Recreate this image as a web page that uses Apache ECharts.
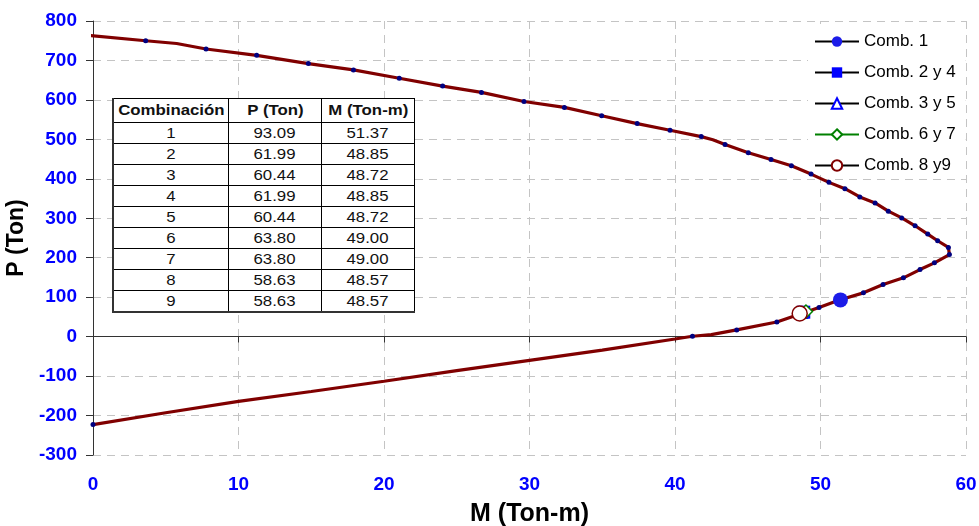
<!DOCTYPE html>
<html>
<head>
<meta charset="utf-8">
<script src="https://cdn.jsdelivr.net/npm/echarts@6/dist/echarts.min.js"></script>
<style>
  html, body { margin: 0; padding: 0; background: #fff; }
  #wrap { position: relative; width: 979px; height: 526px; }
  #chart { position: absolute; left: 0; top: 0; width: 979px; height: 526px; }
  #tbl { position: absolute; left: 112px; top: 98px; border-collapse: collapse; background: #fff;
         font-family: "Liberation Sans", Arial, sans-serif; font-size: 14px; color: #111;
         border-left: 2px solid #333; border-bottom: 2px solid #333; border-top: 1px solid #000; border-right: 1px solid #000; }
  #tbl td, #tbl th { border: 1px solid #000; text-align: center; padding: 0; height: 20px; line-height: 20px; overflow: hidden; }
  #tbl th { font-weight: bold; height: 23px; line-height: 23px; }
  #tbl span { display: inline-block; transform: scaleX(1.2); transform-origin: center; }
</style>
</head>
<body>
<div id="wrap">
  <div id="chart"></div>
  <table id="tbl"></table>
</div>
<script>
// ---- interaction diagram curve (M in Ton-m, P in Ton) ----
const curveM = [-0.7, 3.62, 5.75, 7.77, 11.25, 14.8, 17.9, 21.05, 24.03, 26.7, 29.62, 32.4, 34.96, 37.4, 39.66, 41.8, 42.6, 43.44, 45.04, 46.6, 48.0, 49.35, 50.58, 51.68, 52.7, 53.75, 54.66, 55.58, 56.5, 57.37, 58.05, 58.79, 58.86, 57.83, 56.84, 55.7, 54.3, 52.95, 51.3, 49.9, 47.0, 44.24, 42.5, 41.2, 40, 35, 30, 25, 20, 15, 10, 5, 0];
const curveP = [765, 750, 743, 729, 713, 692, 676, 655, 635, 619, 596, 581, 560, 540, 523, 507, 499, 487, 466, 449, 433, 412, 391, 375, 354, 339, 318, 301, 281, 260, 243, 226, 208, 187, 170, 149, 132, 111, 93, 74, 37, 17, 5, 1, -6, -34, -60, -86, -113, -139, -164, -193, -223];
const curveMarked = [0, 1, 0, 1, 1, 1, 1, 1, 1, 1, 1, 1, 1, 1, 1, 1, 0, 1, 1, 1, 1, 1, 1, 1, 1, 1, 1, 1, 1, 1, 1, 1, 1, 1, 1, 1, 1, 1, 1, 1, 1, 1, 0, 1, 0, 0, 0, 0, 0, 0, 0, 0, 1];

// ---- load combinations ----
const comboNames = ['Comb. 1', 'Comb. 2 y 4', 'Comb. 3 y 5', 'Comb. 6 y 7', 'Comb. 8 y9'];
const comboM = [51.37, 48.85, 48.72, 49.00, 48.57];
const comboP = [93.09, 61.99, 60.44, 63.80, 58.63];

// ---- table ----
const tableHeader = ['Combinación', 'P (Ton)', 'M (Ton-m)'];
const tableComb = ['1', '2', '3', '4', '5', '6', '7', '8', '9'];
const tableP = ['93.09', '61.99', '60.44', '61.99', '60.44', '63.80', '63.80', '58.63', '58.63'];
const tableM = ['51.37', '48.85', '48.72', '48.85', '48.72', '49.00', '49.00', '48.57', '48.57'];

// ---- axes ----
const xTicks = [0, 10, 20, 30, 40, 50, 60];
const yTicks = [-300, -200, -100, 0, 100, 200, 300, 400, 500, 600, 700, 800];

// build table
(function () {
  const t = document.getElementById('tbl');
  const widths = [114, 92, 92];
  const cell = (tag, txt, w) => '<' + tag + (w ? ' style="width:' + w + 'px"' : '') + '><span>' + txt + '</span></' + tag + '>';
  let html = '<tr>' + tableHeader.map((h, i) => cell('th', h, widths[i])).join('') + '</tr>';
  for (let i = 0; i < tableComb.length; i++) {
    html += '<tr>' + cell('td', tableComb[i]) + cell('td', tableP[i]) + cell('td', tableM[i]) + '</tr>';
  }
  t.innerHTML = html;
})();

const FONT = '"Liberation Sans", Arial, sans-serif';
const chart = echarts.init(document.getElementById('chart'), null, { renderer: 'canvas' });

const curveData = curveM.map((m, i) => curveMarked[i]
  ? { value: [m, curveP[i]] }
  : { value: [m, curveP[i]], symbol: 'none' });

const comboStyles = [
  { symbol: 'circle', size: 15, line: '#000', color: '#1c1ce8', border: '#1c1ce8', bw: 0 },
  { symbol: 'rect', size: 13, line: '#000', color: '#0000FF', border: '#0000FF', bw: 0 },
  { symbol: 'triangle', size: 11, line: '#000', color: '#fff', border: '#0000FF', bw: 1.5 },
  { symbol: 'diamond', size: 13, line: '#008000', color: '#fff', border: '#008000', bw: 1.5 },
  { symbol: 'circle', size: 15, line: '#000', color: '#fff', border: '#800000', bw: 1.5 }
];

const comboSeries = comboNames.map((name, i) => ({
  name: name,
  type: 'line',
  xAxisIndex: 0,
  yAxisIndex: 0,
  data: [[comboM[i], comboP[i]]],
  symbol: comboStyles[i].symbol,
  symbolSize: comboStyles[i].size,
  showSymbol: true,
  lineStyle: { color: comboStyles[i].line, width: 1.5 },
  itemStyle: { color: comboStyles[i].color, borderColor: comboStyles[i].border, borderWidth: comboStyles[i].bw },
  z: 5 + i,
  animation: false
}));

const option = {
  animation: false,
  backgroundColor: '#fff',
  grid: { left: 93, right: 13, top: 21, bottom: 71, containLabel: false, outerBoundsMode: 'none' },
  legend: {
    data: comboNames,
    orient: 'vertical',
    left: 808,
    top: 24,
    padding: [9, 10, 1, 6],
    itemWidth: 44,
    itemHeight: 13,
    itemGap: 14,
    backgroundColor: '#fff',
    textStyle: { fontFamily: FONT, fontSize: 17, color: '#000' },
    z: 1
  },
  xAxis: [
    {
      type: 'value', position: 'bottom', min: 0, max: 60, interval: 10,
      axisLine: { show: true, onZero: true, lineStyle: { color: '#333', width: 1 } },
      axisTick: { show: true, inside: false, length: 6, lineStyle: { color: '#333' } },
      axisLabel: { show: false },
      splitLine: { show: true, lineStyle: { color: '#c4c4c4', type: [8, 6], width: 1 } }
    },
    {
      type: 'value', position: 'bottom', min: 0, max: 60, interval: 10,
      axisLine: { show: false, onZero: false },
      axisTick: { show: false },
      splitLine: { show: false },
      axisLabel: {
        show: true, margin: 20, color: '#0000FF', fontWeight: 'bold', fontSize: 19, fontFamily: FONT,
        customValues: xTicks
      },
      name: 'M (Ton-m)', nameLocation: 'middle', nameGap: 47,
      nameTextStyle: { fontFamily: FONT, fontWeight: 'bold', fontSize: 25, color: '#000' }
    }
  ],
  yAxis: {
    type: 'value', min: -300, max: 800, interval: 100,
    axisLine: { show: true, onZero: false, lineStyle: { color: '#333', width: 1 } },
    axisTick: { show: true, inside: false, length: 7, lineStyle: { color: '#333' } },
    axisLabel: { margin: 16, color: '#0000FF', fontWeight: 'bold', fontSize: 19, fontFamily: FONT, customValues: yTicks },
    splitLine: { show: true, lineStyle: { color: '#c4c4c4', type: [8, 6], width: 1 } },
    name: 'P (Ton)', nameLocation: 'middle', nameGap: 60, nameRotate: 90,
    nameTextStyle: { fontFamily: FONT, fontWeight: 'bold', fontSize: 23, color: '#000' }
  },
  series: [
    {
      name: 'Diagrama',
      type: 'line',
      data: curveData,
      clip: false,
      symbol: 'circle',
      symbolSize: 5,
      showSymbol: true,
      showAllSymbol: true,
      lineStyle: { color: '#800000', width: 3.2 },
      itemStyle: { color: '#000080', borderWidth: 0 },
      z: 3
    }
  ].concat(comboSeries)
};

chart.setOption(option);
</script>
</body>
</html>
